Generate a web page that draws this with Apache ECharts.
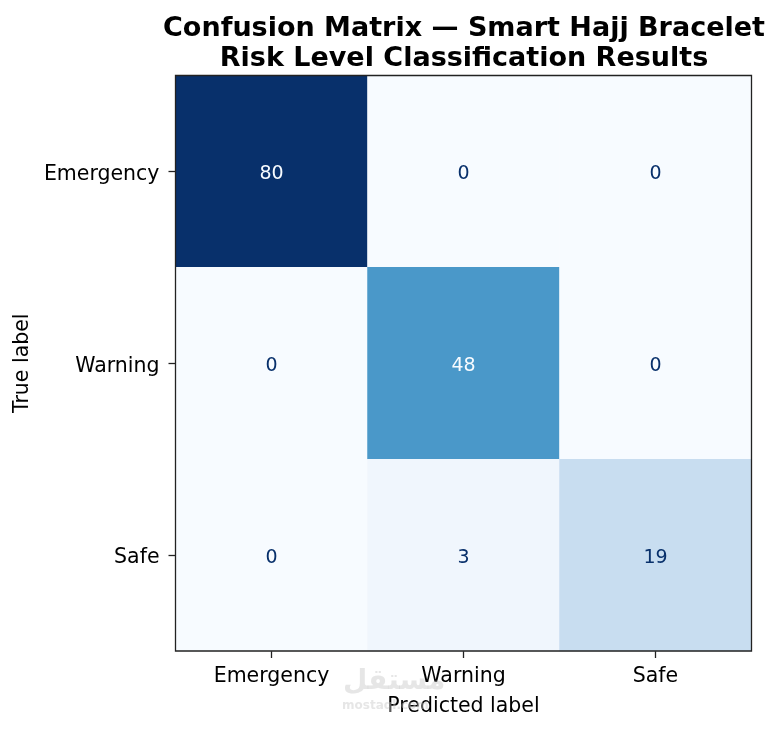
<!DOCTYPE html>
<html>
<head>
<meta charset="utf-8">
<script src="https://cdn.jsdelivr.net/npm/echarts@6/dist/echarts.min.js"></script>
<style>html,body{margin:0;padding:0;background:#fff}#c{width:780px;height:730px}</style>
</head>
<body>
<div id="c"></div>
<script>
const predictedLabels = ['Emergency', 'Warning', 'Safe'];
const trueLabels = ['Emergency', 'Warning', 'Safe'];
const rowEmergency = [80, 0, 0];
const rowWarning = [0, 48, 0];
const rowSafe = [0, 3, 19];
const matrixRows = [rowEmergency, rowWarning, rowSafe];
const titleLines = ['Confusion Matrix — Smart Hajj Bracelet', 'Risk Level Classification Results'];

const blues = ['#f7fbff','#deebf7','#c6dbef','#9ecae1','#6baed6','#4292c6','#2171b5','#08519c','#08306b'];
let vmin = Infinity, vmax = -Infinity;
matrixRows.forEach(r => r.forEach(v => { vmin = Math.min(vmin, v); vmax = Math.max(vmax, v); }));
const thresh = (vmin + vmax) / 2;
const data = [];
matrixRows.forEach((r, i) => r.forEach((v, j) => {
  data.push({ value: [j, i, v], label: { color: v > thresh ? '#f7fbff' : '#08306b' } });
}));

const FONT = 'DejaVu Sans';
const chart = echarts.init(document.getElementById('c'), null, { renderer: 'canvas' });
chart.setOption({
  animation: false,
  backgroundColor: '#fff',
  title: {
    text: titleLines.join('\n'),
    left: 459, top: 9, textAlign: 'center',
    textStyle: { fontFamily: FONT, fontWeight: 'bold', fontSize: 27, color: '#000', lineHeight: 30 }
  },
  grid: { left: 175.5, top: 75.5, width: 576, height: 575.5, show: true, borderColor: '#222', borderWidth: 1.3, backgroundColor: 'transparent', z: 10 },
  xAxis: {
    type: 'category', data: predictedLabels, position: 'bottom',
    name: 'Predicted label', nameLocation: 'middle', nameGap: 45,
    nameTextStyle: { fontFamily: FONT, fontSize: 20.5, color: '#000' },
    axisLine: { show: false },
    axisTick: { show: true, alignWithLabel: true, length: 7, lineStyle: { color: '#222', width: 1.3 } },
    axisLabel: { fontFamily: FONT, fontSize: 20.5, color: '#000', margin: 15 },
    splitLine: { show: false }
  },
  yAxis: {
    type: 'category', data: trueLabels, inverse: true,
    name: 'True label', nameLocation: 'middle', nameGap: 141, nameRotate: 90,
    nameTextStyle: { fontFamily: FONT, fontSize: 20.5, color: '#000' },
    axisLine: { show: false },
    axisTick: { show: true, alignWithLabel: true, length: 7, lineStyle: { color: '#222', width: 1.3 } },
    axisLabel: {
      fontFamily: FONT, fontSize: 20.5, color: '#000', margin: 16,
      formatter: v => '{t|' + v + '}',
      rich: { t: { fontFamily: FONT, fontSize: 20.5, color: '#000', padding: [6, 0, 0, 0] } }
    },
    splitLine: { show: false }
  },
  visualMap: {
    show: false, type: 'continuous', min: vmin, max: vmax, dimension: 2,
    inRange: { color: blues }
  },
  series: [{
    type: 'heatmap', data: data,
    label: { show: true, fontFamily: FONT, fontSize: 19, offset: [0, 2.5], formatter: p => p.value[2] },
    itemStyle: { borderWidth: 0 },
    emphasis: { disabled: true }
  }],
  graphic: [
    { type: 'text', left: 343, top: 668, silent: true, z: 100,
      style: { text: 'مستقل', fontFamily: 'DejaVu Sans', fontWeight: 'bold', fontSize: 28, fill: 'rgba(200,200,200,0.45)' } },
    { type: 'text', left: 342, top: 700, silent: true, z: 100,
      style: { text: 'mostaql.com', fontFamily: FONT, fontWeight: 'bold', fontSize: 12, fill: 'rgba(200,200,200,0.45)' } }
  ]
});
</script>
</body>
</html>
